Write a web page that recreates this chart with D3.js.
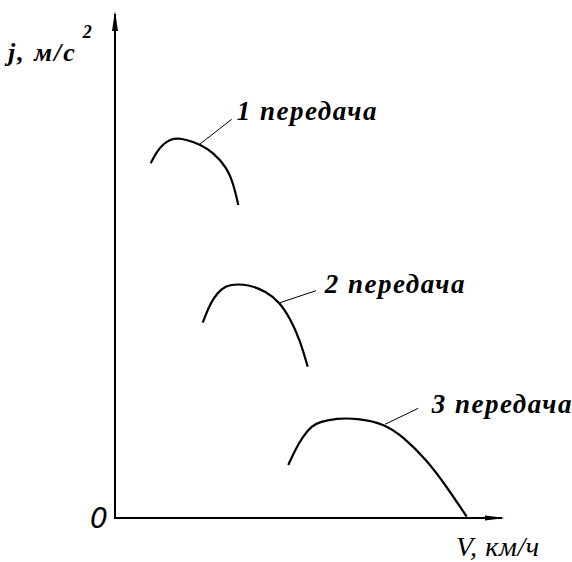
<!DOCTYPE html>
<html><head><meta charset="utf-8">
<script src="https://cdn.jsdelivr.net/npm/d3@7"></script>
<style>html,body{margin:0;padding:0;background:#fff;}</style>
</head><body>
<script>
// Data (V in chart units, j in chart units)
const gears = ["1 передача", "2 передача", "3 передача"];
const gear1 = [[3.57,3.547],[4.17,3.663],[4.83,3.74],[5.5,3.787],[6.33,3.797],[7.0,3.785],[8.5,3.74],[9.83,3.653],[11.17,3.507],[11.83,3.347],[12.33,3.13]];
const gear2 = [[8.77,1.953],[9.33,2.097],[9.83,2.197],[10.67,2.297],[11.5,2.337],[13.33,2.337],[15.17,2.263],[16.5,2.153],[17.5,1.997],[18.5,1.78],[19.27,1.513]];
const gear3 = [[17.33,0.53],[18.0,0.68],[18.83,0.82],[19.67,0.92],[20.5,0.963],[22.17,0.997],[24.17,0.997],[26.83,0.947],[28.83,0.813],[31.17,0.58],[33.17,0.313],[35.17,0.013]];
const leaderFrom = [[8.5,3.74],[16.5,2.153],[27.0,0.937]];
const leaderTo = [[11.67,3.987],[20.1,2.273],[30.33,1.097]];
const labelAt = [[12.17,3.98],[20.97,2.25],[31.67,1.05]];
const xLabel = "V, км/ч";
const yLabel = "j, м/с";
const yLabelSup = "2";
const originLabel = "0";

const SERIF = "'Liberation Serif', 'Times New Roman', serif";
const W = 572, H = 562;
const svg = d3.select("body").append("svg").attr("width", W).attr("height", H);
const x = d3.scaleLinear().domain([0, 40]).range([115, 515]);
const y = d3.scaleLinear().domain([0, 5]).range([518, 18]);

// axes
const ax = svg.append("g").attr("stroke", "#000").attr("fill", "#000");
ax.append("line").attr("x1", x(0)).attr("x2", x(0)).attr("y1", y(0)+1).attr("y2", 14).attr("stroke-width", 2);
ax.append("path").attr("d", `M${x(0)},11 L${x(0)-3},31 L${x(0)+3},31 Z`).attr("stroke", "none");
ax.append("line").attr("x1", x(0)-1).attr("x2", 502).attr("y1", y(0)).attr("y2", y(0)).attr("stroke-width", 2);
ax.append("path").attr("d", `M505,${y(0)} L485,${y(0)-2.5} L485,${y(0)+2.5} Z`).attr("stroke", "none");

// curves
const line = d3.line().x(d => x(d[0])).y(d => y(d[1])).curve(d3.curveBasis);
[gear1, gear2, gear3].forEach(g => {
  svg.append("path").attr("d", line(g)).attr("fill", "none").attr("stroke", "#000").attr("stroke-width", 2.2);
});
// leaders
leaderFrom.forEach((f, i) => {
  svg.append("line").attr("x1", x(f[0])).attr("y1", y(f[1])).attr("x2", x(leaderTo[i][0])).attr("y2", y(leaderTo[i][1]))
    .attr("stroke", "#000").attr("stroke-width", 1);
});
// labels
gears.forEach((t, i) => {
  svg.append("text").attr("x", x(labelAt[i][0])).attr("y", y(labelAt[i][1]))
    .attr("font-family", SERIF).attr("font-style", "italic").attr("font-weight", "bold")
    .attr("font-size", 27).attr("letter-spacing", 1.5).text(t);
});
// axis labels
const yl = svg.append("text").attr("x", 8).attr("y", 61)
  .attr("font-family", SERIF).attr("font-style", "italic").attr("font-weight", "bold")
  .attr("font-size", 26).attr("letter-spacing", 2);
yl.append("tspan").text(yLabel);
yl.append("tspan").attr("dx", 6).attr("dy", -23).attr("font-size", 18).text(yLabelSup);

svg.append("text").attr("x", 456).attr("y", 556)
  .attr("font-family", SERIF).attr("font-style", "italic")
  .attr("font-size", 28).attr("letter-spacing", 0.6).text(xLabel);

svg.append("text").attr("x", 90).attr("y", 528)
  .attr("font-family", "'DejaVu Sans', sans-serif").attr("font-style", "italic")
  .attr("font-size", 28).text(originLabel);
</script>
</body></html>
